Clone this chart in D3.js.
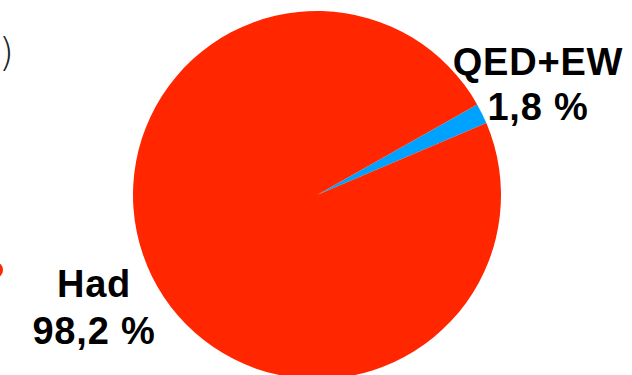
<!DOCTYPE html>
<html>
<head>
<meta charset="utf-8">
<script src="https://cdn.jsdelivr.net/npm/d3@7"></script>
<style>
  html, body { margin: 0; padding: 0; background: #fff; }
  svg { display: block; }
</style>
</head>
<body>
<svg id="chart" width="632" height="375"></svg>
<script>
// Contributions to the total (per cent)
const categories = ["QED+EW", "Had"];
const values = [1.8, 98.2];
const valueLabels = ["1,8 %", "98,2 %"];
const colors = ["#00a2ff", "#ff2600"];

const W = 632, H = 375;
const cx = 317, cy = 195, R = 184;

const svg = d3.select("#chart");

// Neighbouring slide content at the left edge
svg.append("text")
  .attr("x", 14).attr("y", 66)
  .attr("text-anchor", "end")
  .attr("font-family", "'DejaVu Sans', sans-serif")
  .attr("font-weight", 300)
  .attr("font-size", 39)
  .attr("fill", "#222")
  .text(")");
svg.append("circle")
  .attr("cx", -5).attr("cy", 270).attr("r", 8)
  .attr("fill", colors[1]);

// Pie: the small slice starts a little past two o'clock
const start = 60.5 * Math.PI / 180;
const pie = d3.pie().sort(null).value(d => d)
  .startAngle(start).endAngle(start + 2 * Math.PI);
const arc = d3.arc().innerRadius(0).outerRadius(R);

const g = svg.append("g").attr("transform", `translate(${cx},${cy})`);
g.selectAll("path")
  .data(pie(values))
  .join("path")
  .attr("d", arc)
  .attr("fill", (d, i) => colors[i]);

// Slice labels
const labelPos = [
  { x: 538, y1: 75, y2: 120 },
  { x: 94, y1: 297, y2: 344 }
];
categories.forEach((c, i) => {
  const t = svg.append("text")
    .attr("text-anchor", "middle")
    .attr("font-family", "'Liberation Sans', Arial, Helvetica, sans-serif")
    .attr("font-weight", "bold")
    .attr("font-size", 38)
    .attr("letter-spacing", 0.8)
    .attr("fill", "#000");
  t.append("tspan").attr("x", labelPos[i].x).attr("y", labelPos[i].y1).text(c);
  t.append("tspan").attr("x", labelPos[i].x).attr("y", labelPos[i].y2).text(valueLabels[i]);
});
</script>
</body>
</html>
